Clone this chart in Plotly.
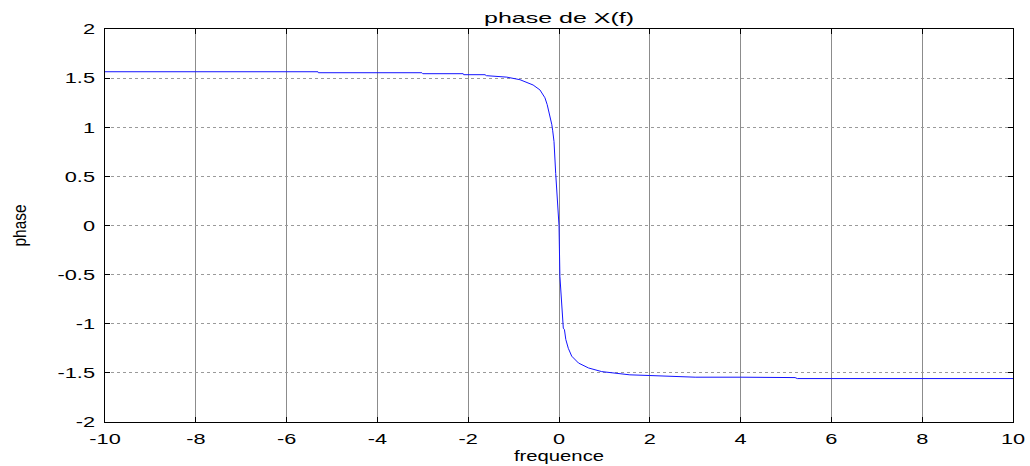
import plotly.graph_objects as go

# Phase of X(f), sampled frequency axis and corresponding phase values (rad)
frequence = [-10.0, -8.0, -6.0, -5.31, -5.3, -4.0, -3.02, -3.0, -2.11, -2.1, -1.63, -1.6,
             -1.30, -1.15, -0.86, -0.64, -0.57, -0.42, -0.31, -0.26, -0.21, -0.16, -0.14,
             -0.11, -0.073, -0.04, 0.0, 0.02, 0.06, 0.095, 0.12, 0.15, 0.205, 0.28, 0.43,
             0.65, 0.94, 1.23, 1.56, 2.0, 2.95, 3.0, 4.0, 5.2, 5.25, 6.0, 8.0, 10.0]
phase = [1.565, 1.565, 1.565, 1.565, 1.555, 1.555, 1.555, 1.545, 1.545, 1.535, 1.535, 1.525,
         1.517, 1.51, 1.484, 1.44, 1.43, 1.38, 1.30, 1.23, 1.14, 1.03, 0.97,
         0.855, 0.53, 0.33, 0.0, -0.52, -0.86, -1.045, -1.06, -1.16, -1.25, -1.33, -1.40,
         -1.45, -1.487, -1.505, -1.52, -1.527, -1.537, -1.544, -1.544, -1.548, -1.558, -1.558, -1.558, -1.558]

x_ticks = [-10, -8, -6, -4, -2, 0, 2, 4, 6, 8, 10]
y_ticks = [-2, -1.5, -1, -0.5, 0, 0.5, 1, 1.5, 2]
y_tick_text = ["-2", "-1.5", "-1", "-0.5", "0", "0.5", "1", "1.5", "2"]

font_main = "Liberation Sans, Arial, sans-serif"

fig = go.Figure()
fig.add_trace(go.Scatter(
    x=frequence, y=phase, mode="lines",
    line=dict(color="#1414ff", width=1),
    hoverinfo="skip", showlegend=False,
))

fig.update_layout(
    width=1030, height=466,
    margin=dict(l=105, r=17, t=29, b=44),
    paper_bgcolor="white", plot_bgcolor="white",
    title=dict(text="phase de X(f)", x=0.5, xref="paper", y=0.962, yref="container",
               xanchor="center", yanchor="middle",
               font=dict(family=font_main, size=15, color="black")),
    font=dict(family=font_main, size=14, color="black"),
)
fig.update_xaxes(
    range=[-10, 10], tickvals=x_ticks, ticktext=[str(v) for v in x_ticks],
    showline=True, linecolor="black", linewidth=1, mirror="ticks",
    ticks="inside", ticklen=5, tickcolor="black",
    showgrid=True, gridcolor="#8c8c8c", gridwidth=1,
    zeroline=False, tickfont=dict(family=font_main, size=15),
    ticklabelstandoff=3, automargin=False,
    title=dict(text="frequence", standoff=1, font=dict(family=font_main, size=15)),
)
fig.update_yaxes(
    range=[-2, 2], tickvals=y_ticks, ticktext=y_tick_text,
    showline=True, linecolor="black", linewidth=1, mirror="ticks",
    ticks="inside", ticklen=5, tickcolor="black",
    showgrid=True, gridcolor="#9a9a9a", gridwidth=1, griddash="dot",
    zeroline=False, tickfont=dict(family=font_main, size=15),
    ticklabelstandoff=6, automargin=False,
    title=dict(text="phase", standoff=37, font=dict(family=font_main, size=19)),
)

# Horizontally widened lettering (glyph stretch via SVG textLength)
post_js = """
var gd = document.getElementById('{plot_id}');
function widen(sel, k, fixed) {
  gd.querySelectorAll(sel).forEach(function (t) {
    t.removeAttribute('textLength');
    var w = t.getComputedTextLength();
    var target = fixed ? fixed : w * k;
    t.setAttribute('textLength', target.toFixed(1));
    t.setAttribute('lengthAdjust', 'spacingAndGlyphs');
  });
}
function restyleText() {
  widen('.xtick text', 1.45);
  widen('.ytick text', 1.45);
  widen('.gtitle', 1.0, 150);
  widen('.xtitle', 1.35);
  widen('.ytitle', 1.0, 42);
}
restyleText();
gd.on('plotly_afterplot', restyleText);
"""

fig.write_html("out.html", post_script=post_js)
